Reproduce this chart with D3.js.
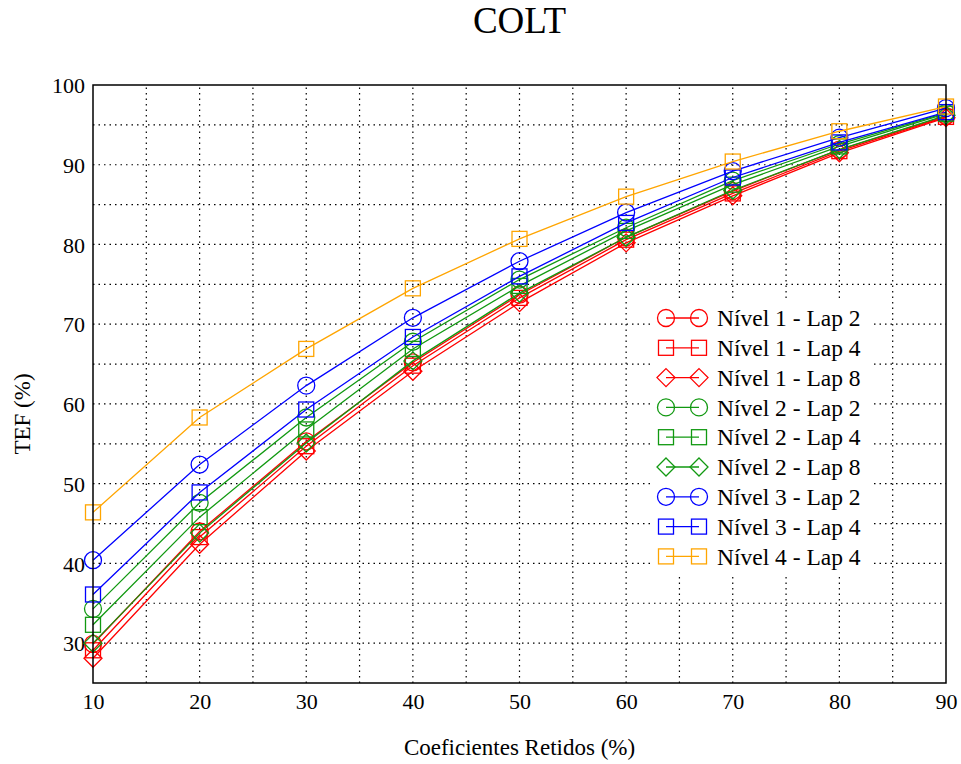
<!DOCTYPE html>
<html lang="pt">
<head>
    <meta charset="UTF-8">
    <title>COLT</title>
    <script src="https://d3js.org/d3.v7.js"></script>
    <style>
        body {
            margin: 0;
            padding: 0;
            background: #fff;
        }
        svg text {
            font-family: "Liberation Serif", "Times New Roman", serif;
            fill: #000;
        }
    </style>
</head>
<body>
    <svg id="chart"></svg>

    <script>
        // Data
        const coefRetidos = [10, 20, 30, 40, 50, 60, 70, 80, 90];

        const n1Lap2 = [29.9, 44.0, 55.3, 65.2, 73.7, 80.9, 86.7, 91.9, 96.1];
        const n1Lap4 = [29.1, 43.3, 54.7, 64.8, 73.3, 80.6, 86.4, 91.7, 96.0];
        const n1Lap8 = [28.1, 42.4, 54.1, 64.1, 72.7, 80.2, 86.1, 91.5, 95.9];
        const n2Lap2 = [34.3, 47.6, 58.3, 67.8, 75.6, 82.1, 88.0, 92.6, 96.5];
        const n2Lap4 = [32.3, 45.8, 56.8, 66.9, 74.8, 81.7, 87.5, 92.3, 96.4];
        const n2Lap8 = [30.0, 43.8, 55.1, 65.4, 73.9, 80.9, 86.8, 91.9, 96.2];
        const n3Lap2 = [40.4, 52.4, 62.3, 70.8, 77.9, 84.0, 89.2, 93.4, 97.1];
        const n3Lap4 = [36.1, 48.9, 59.3, 68.4, 76.0, 82.7, 88.4, 92.8, 96.6];
        const n4Lap4 = [46.4, 58.3, 66.9, 74.5, 80.7, 86.0, 90.4, 94.2, 97.3];

        const seriesNames = [
            "Nível 1 - Lap 2", "Nível 1 - Lap 4", "Nível 1 - Lap 8",
            "Nível 2 - Lap 2", "Nível 2 - Lap 4", "Nível 2 - Lap 8",
            "Nível 3 - Lap 2", "Nível 3 - Lap 4", "Nível 4 - Lap 4"
        ];
        const seriesValues = [n1Lap2, n1Lap4, n1Lap8, n2Lap2, n2Lap4, n2Lap8, n3Lap2, n3Lap4, n4Lap4];
        const seriesColors = ["#ff0000", "#ff0000", "#ff0000", "#119911", "#119911", "#119911", "#0000ff", "#0000ff", "#ffa500"];
        const seriesMarkers = ["circle", "square", "diamond", "circle", "square", "diamond", "circle", "square", "square"];

        const xTicks = [10, 20, 30, 40, 50, 60, 70, 80, 90];
        const yTicks = [30, 40, 50, 60, 70, 80, 90, 100];

        // Layout
        const width = 961;
        const height = 764;
        const margin = {left: 93, right: 15, top: 85, bottom: 81};

        const svg = d3.select("#chart")
            .attr("width", width)
            .attr("height", height);

        const x = d3.scaleLinear()
            .domain([10, 90])
            .range([margin.left, width - margin.right]);

        const y = d3.scaleLinear()
            .domain([25, 100])
            .range([height - margin.bottom, margin.top]);

        // Grid (every 5 units)
        const grid = svg.append("g").attr("class", "grid");
        grid.selectAll("line.v")
            .data(d3.range(15, 90, 5))
            .enter().append("line")
            .attr("x1", d => x(d)).attr("x2", d => x(d))
            .attr("y1", y(25)).attr("y2", y(100))
            .attr("stroke", "#000")
            .attr("stroke-width", 1.2)
            .attr("stroke-dasharray", "1.5,4");
        grid.selectAll("line.h")
            .data(d3.range(30, 100, 5))
            .enter().append("line")
            .attr("x1", x(10)).attr("x2", x(90))
            .attr("y1", d => y(d)).attr("y2", d => y(d))
            .attr("stroke", "#000")
            .attr("stroke-width", 1.2)
            .attr("stroke-dasharray", "1.5,4");

        // Axes
        const xAxis = d3.axisBottom(x).tickValues(xTicks).tickSize(0).tickPadding(10);
        const yAxis = d3.axisLeft(y).tickValues(yTicks).tickSize(0).tickPadding(8);

        const gx = svg.append("g")
            .attr("transform", `translate(0, ${height - margin.bottom})`)
            .call(xAxis);
        const gy = svg.append("g")
            .attr("transform", `translate(${margin.left}, 0)`)
            .call(yAxis);
        [gx, gy].forEach(g => {
            g.select(".domain").remove();
            g.selectAll("text")
                .attr("font-size", 22)
                .attr("font-family", "Liberation Serif, serif");
        });
        gy.selectAll("text").attr("dy", "0.35em");

        // Symbol drawing
        function drawMarker(g, type, cx, cy, color) {
            if (type === "circle") {
                g.append("circle")
                    .attr("cx", cx).attr("cy", cy).attr("r", 8.5)
                    .attr("fill", "none").attr("stroke", color).attr("stroke-width", 1.3);
            } else if (type === "square") {
                g.append("rect")
                    .attr("x", cx - 7.5).attr("y", cy - 7.5)
                    .attr("width", 15).attr("height", 15)
                    .attr("fill", "none").attr("stroke", color).attr("stroke-width", 1.3);
            } else {
                const r = 9;
                g.append("path")
                    .attr("d", `M${cx},${cy - r}L${cx + r},${cy}L${cx},${cy + r}L${cx - r},${cy}Z`)
                    .attr("fill", "none").attr("stroke", color).attr("stroke-width", 1.3);
            }
        }

        // Series
        const line = d3.line()
            .x((d, i) => x(coefRetidos[i]))
            .y(d => y(d));

        const plot = svg.append("g").attr("class", "series");
        seriesValues.forEach((vals, s) => {
            const g = plot.append("g");
            g.append("path")
                .datum(vals)
                .attr("d", line)
                .attr("fill", "none")
                .attr("stroke", seriesColors[s])
                .attr("stroke-width", 1.3);
            vals.forEach((v, i) => drawMarker(g, seriesMarkers[s], x(coefRetidos[i]), y(v), seriesColors[s]));
        });

        // Frame
        svg.append("rect")
            .attr("x", x(10)).attr("y", y(100))
            .attr("width", x(90) - x(10))
            .attr("height", y(25) - y(100))
            .attr("fill", "none")
            .attr("stroke", "#000")
            .attr("stroke-width", 1.5);

        // Legend
        const legend = svg.append("g").attr("class", "legend");
        const legX = 650, legY = 302, legStep = 29.8;
        legend.append("rect")
            .attr("x", legX).attr("y", legY)
            .attr("width", 222).attr("height", legStep * seriesNames.length + 4)
            .attr("fill", "#fff");
        seriesNames.forEach((name, s) => {
            const cy = legY + 16 + s * legStep;
            const g = legend.append("g");
            g.append("line")
                .attr("x1", 666).attr("x2", 699)
                .attr("y1", cy).attr("y2", cy)
                .attr("stroke", seriesColors[s])
                .attr("stroke-width", 1.3);
            drawMarker(g, seriesMarkers[s], 666, cy, seriesColors[s]);
            drawMarker(g, seriesMarkers[s], 699, cy, seriesColors[s]);
            g.append("text")
                .attr("x", 717).attr("y", cy)
                .attr("dy", "0.35em")
                .attr("font-size", 23.5)
                .text(name);
        });

        // Title and axis labels
        svg.append("text")
            .attr("x", (x(10) + x(90)) / 2)
            .attr("y", 33)
            .attr("text-anchor", "middle")
            .attr("font-size", 37)
            .text("COLT");

        svg.append("text")
            .attr("x", (x(10) + x(90)) / 2)
            .attr("y", 755)
            .attr("text-anchor", "middle")
            .attr("font-size", 23)
            .text("Coeficientes Retidos (%)");

        svg.append("text")
            .attr("transform", "rotate(-90)")
            .attr("x", -414)
            .attr("y", 30)
            .attr("text-anchor", "middle")
            .attr("font-size", 23)
            .text("TEF (%)");
    </script>
</body>
</html>
